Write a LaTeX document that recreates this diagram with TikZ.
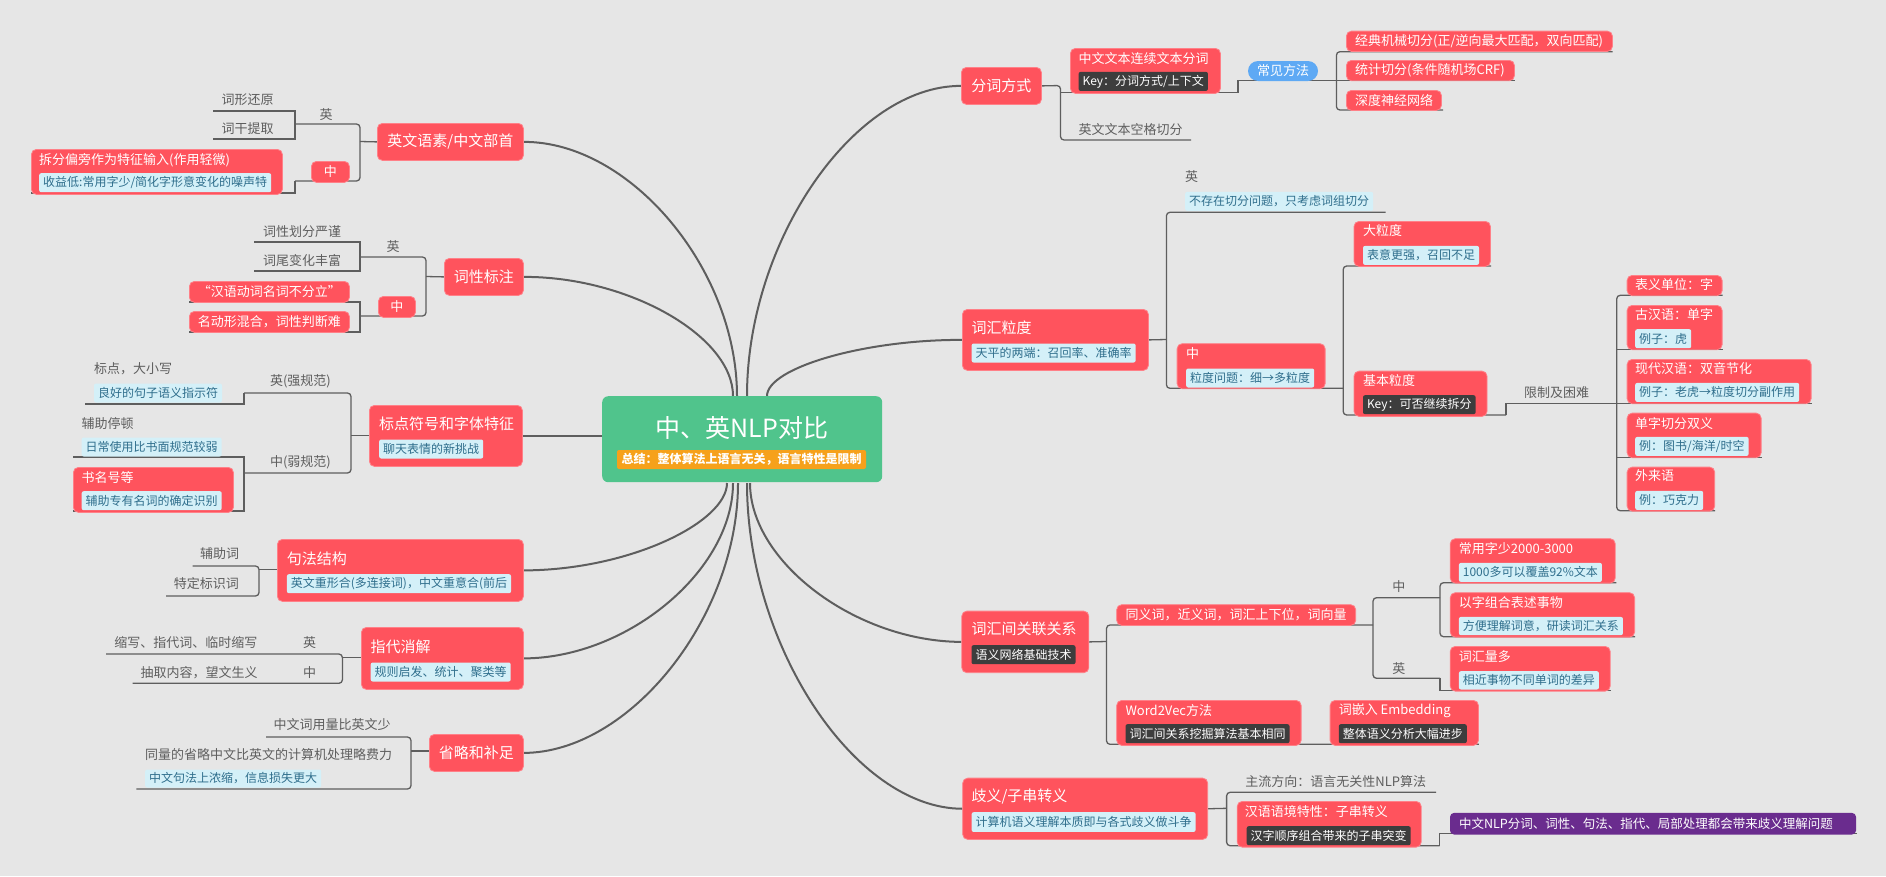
\documentclass[tikz,border=0pt]{standalone}
\usepackage{fontspec}
\setmainfont{Noto Sans CJK SC}
\definecolor{bgc}{HTML}{E6E6E6}
\definecolor{nred}{HTML}{FF535D}
\definecolor{nredl}{HTML}{FF8088}
\definecolor{lblue}{HTML}{D4F0F8}
\definecolor{ltxt}{HTML}{2F6E8C}
\definecolor{dgray}{HTML}{3D3D3D}
\definecolor{gtxt}{HTML}{5E5E5E}
\definecolor{lcol}{HTML}{5E5E5E}
\definecolor{cgreen}{HTML}{50C48C}
\definecolor{corange}{HTML}{F6A11B}
\definecolor{pblue}{HTML}{5EA9F4}
\definecolor{cpurple}{HTML}{6A2C8E}
\pgfdeclarelayer{back}
\pgfdeclarelayer{lines}
\pgfsetlayers{back,lines,main}
\tikzset{
  fa/.style={font=\fontsize{15}{18}\selectfont},
  fb/.style={font=\fontsize{13}{16}\selectfont},
  fc/.style={font=\fontsize{12}{14}\selectfont},
  redbox/.style={fill=nred, draw=nredl, line width=0.8pt, rounded corners=5pt, inner sep=0pt, anchor=north west},
  wt/.style={text=white, inner sep=0pt},
  ptx/.style={text=gtxt, inner sep=0pt, fb},
  lab/.style={fill=lblue, text=ltxt, rounded corners=2pt, inner xsep=4pt, inner ysep=0pt, minimum height=19pt, anchor=north west, fc},
  dlab/.style={lab, fill=dgray, text=white},
  ln/.style={draw=lcol, line width=1.3pt, rounded corners=3.5pt},
  sq/.style={draw=lcol, line width=1.3pt},
  cv/.style={draw=lcol, line width=2pt},
}
\newcommand\mybox[5]{\node[redbox, minimum width=#4pt, minimum height=#5pt] (#1) at (#2,#3) {};}
\begin{document}
\begin{tikzpicture}[x=1pt,y=-1pt]
\begin{pgfonlayer}{back}
\fill[bgc] (0,0) rectangle (1886,876);
\end{pgfonlayer}
\useasboundingbox (0,0) rectangle (1886,876);

% ---------- center ----------
\node[fill=cgreen, rounded corners=6pt, minimum width=280pt, minimum height=86pt, anchor=north west, inner sep=0pt] (c) at (602,396) {};
\node[wt, font=\fontsize{25}{30}\selectfont] (ct) at (742,428) {中、英NLP对比};
\node[fill=corange, text=white, rounded corners=2pt, minimum width=249pt, minimum height=19pt, inner sep=0pt, fc] (cl) at (741.5,459.5) {\bfseries 总结：整体算法上语言无关，语言特性是限制};
\coordinate (s1) at (737,396);
\coordinate (s2) at (733,396);
\coordinate (s3) at (602,435.5);
\coordinate (s4) at (727,483);
\coordinate (s5) at (733,483);
\coordinate (s6) at (738,483);
\coordinate (s7) at (747,396);
\coordinate (s8) at (767,396);
\coordinate (s9) at (750,483);
\coordinate (s10) at (747,483);

% ---------- L1 ----------
\mybox{b1}{377}{123}{146}{37}
\node[wt,fa] at (b1.center) {英文语素/中文部首};
\node[ptx] at (326,115) {英};
\node[ptx] at (247.6,100) {词形还原};
\node[ptx] at (247.6,129) {词干提取};
\mybox{b1z}{311}{161}{38}{21}
\node[wt,fb] at (b1z.center) {中};
\mybox{b1y}{31}{149}{251}{45}
\node[wt,fb,anchor=west] at (39,160) {拆分偏旁作为特征输入(作用轻微)};
\node[lab] at (39,173) {收益低:常用字少/简化字形意变化的噪声特};

% ---------- L2 ----------
\mybox{b2}{444}{258}{79}{37}
\node[wt,fa] at (b2.center) {词性标注};
\node[ptx] at (393,246.7) {英};
\node[ptx] at (302,231.7) {词性划分严谨};
\node[ptx] at (302,261) {词尾变化丰富};
\mybox{b2z}{378}{296}{37}{21}
\node[wt,fb] at (b2z.center) {中};
\mybox{b2y}{189}{281}{160}{21}
\node[wt,fb] at (b2y.center) {“汉语动词名词不分立”};
\mybox{b2x}{189}{311}{160}{21}
\node[wt,fb] at (b2x.center) {名动形混合，词性判断难};

% ---------- L3 ----------
\mybox{b3}{369}{405}{153}{61}
\node[wt,fa,anchor=west] at (379,423.3) {标点符号和字体特征};
\node[lab] at (379,439.3) {聊天表情的新挑战};
\node[ptx] at (300.4,381.7) {英(强规范)};
\node[ptx] at (300.4,462.3) {中(弱规范)};
\node[ptx,anchor=west] at (93.8,369) {标点，大小写};
\node[lab] at (93.8,383.3) {良好的句子语义指示符};
\node[ptx,anchor=west] at (81.5,423.3) {辅助停顿};
\node[lab] at (81.5,437.3) {日常使用比书面规范较弱};
\mybox{b3z}{73}{467}{160}{45}
\node[wt,fb,anchor=west] at (81.5,477.7) {书名号等};
\node[lab] at (81.5,491) {辅助专有名词的确定识别};

% ---------- L4 ----------
\mybox{b4}{277}{539}{246}{62}
\node[wt,fa,anchor=west] at (286.7,558.7) {句法结构};
\node[lab] at (286.7,574) {英文重形合(多连接词)，中文重意合(前后};
\node[ptx] at (219.5,554) {辅助词};
\node[ptx] at (206.4,584) {特定标识词};

% ---------- L5 ----------
\mybox{b5}{361}{627}{162}{62}
\node[wt,fa,anchor=west] at (370.5,646.7) {指代消解};
\node[lab] at (370.5,662.3) {规则启发、统计、聚类等};
\node[ptx] at (185.8,642.7) {缩写、指代词、临时缩写};
\node[ptx] at (309.6,642.7) {英};
\node[ptx] at (199,672.3) {抽取内容，望文生义};
\node[ptx] at (309.6,672.3) {中};

% ---------- L6 ----------
\mybox{b6}{429}{734}{94}{37}
\node[wt,fa] at (b6.center) {省略和补足};
\node[ptx] at (332,725) {中文词用量比英文少};
\node[ptx,anchor=west] at (145,755) {同量的省略中文比英文的计算机处理略费力};
\node[lab,minimum height=18pt] at (145,769.3) {中文句法上浓缩，信息损失更大};

% ---------- R1 ----------
\mybox{r1}{961}{67}{80}{37}
\node[wt,fa] at (r1.center) {分词方式};
\mybox{r1a}{1070}{48}{150}{45}
\node[wt,fb,anchor=west] at (1078.4,59) {中文文本连续文本分词};
\node[dlab] at (1078.4,71.7) {Key：分词方式/上下文};
\node[ptx,anchor=west] at (1078.4,130) {英文文本空格切分};
\node[fill=pblue, text=white, rounded corners=10pt, minimum width=70pt, minimum height=20pt, inner sep=0pt, fb] (pill) at (1283,71) {常见方法};
\mybox{r1b}{1346}{30.7}{266}{20.3}
\node[wt,fb,anchor=west] at (1355,40.8) {经典机械切分(正/逆向最大匹配，双向匹配)};
\mybox{r1c}{1346}{60}{168}{20.3}
\node[wt,fb,anchor=west] at (1355,70.2) {统计切分(条件随机场CRF)};
\mybox{r1d}{1346}{90}{95}{20}
\node[wt,fb,anchor=west] at (1355,100) {深度神经网络};

% ---------- R2 ----------
\mybox{r2}{962}{309}{186}{61}
\node[wt,fa,anchor=west] at (971.4,327.7) {词汇粒度};
\node[lab] at (971.4,343.3) {天平的两端：召回率、准确率};
\node[ptx,anchor=west] at (1185,176.7) {英};
\node[lab] at (1185,191.7) {不存在切分问题，只考虑词组切分};
\mybox{r2z}{1176.7}{343.3}{148}{45}
\node[wt,fb,anchor=west] at (1186,354) {中};
\node[lab] at (1186,368.3) {粒度问题：细→多粒度};
\mybox{r2a}{1353.6}{221}{136.4}{45}
\node[wt,fb,anchor=west] at (1362.8,231) {大粒度};
\node[lab] at (1362.8,245.7) {表意更强，召回不足};
\mybox{r2b}{1353.6}{370.7}{133}{45.3}
\node[wt,fb,anchor=west] at (1362.8,381) {基本粒度};
\node[dlab] at (1362.8,395) {Key：可否继续拆分};
\node[ptx] at (1556.7,392.7) {限制及困难};
\mybox{r2c}{1626.7}{275}{95}{20.3}
\node[wt,fb,anchor=west] at (1635,285) {表义单位：字};
\mybox{r2d}{1626.7}{305}{95}{44.3}
\node[wt,fb,anchor=west] at (1635,315) {古汉语：单字};
\node[lab] at (1635,329) {例子：虎};
\mybox{r2e}{1626.7}{359}{184}{44.3}
\node[wt,fb,anchor=west] at (1635,369) {现代汉语：双音节化};
\node[lab] at (1635,382.7) {例子：老虎→粒度切分副作用};
\mybox{r2f}{1626.7}{412.7}{134}{44.6}
\node[wt,fb,anchor=west] at (1635,423.3) {单字切分双义};
\node[lab] at (1635,436.7) {例：图书/海洋/时空};
\mybox{r2g}{1626.7}{466.7}{87.6}{44}
\node[wt,fb,anchor=west] at (1635,476) {外来语};
\node[lab] at (1635,490.7) {例：巧克力};

% ---------- R3 ----------
\mybox{r3}{961.4}{610.7}{127}{61.6}
\node[wt,fa,anchor=west] at (971.3,629.3) {词汇间关联关系};
\node[dlab] at (971.3,645) {语义网络基础技术};
\mybox{r3a}{1116.3}{604.3}{239}{20.7}
\node[wt,fb,anchor=west] at (1125.3,614.8) {同义词，近义词，词汇上下位，词向量};
\node[ptx] at (1398.9,586.7) {中};
\node[ptx] at (1398.9,668.3) {英};
\mybox{r3b}{1449.8}{538.3}{165}{44.4}
\node[wt,fb,anchor=west] at (1458.7,549) {常用字少2000-3000};
\node[lab] at (1458.7,562.7) {1000多可以覆盖92\%文本};
\mybox{r3c}{1449.8}{592.3}{184.4}{44.4}
\node[wt,fb,anchor=west] at (1458.7,602.3) {以字组合表述事物};
\node[lab,minimum height=18.3pt] at (1458.7,616.7) {方便理解词意，研读词汇关系};
\mybox{r3d}{1449.8}{646}{160}{44.7}
\node[wt,fb,anchor=west] at (1458.7,656.7) {词汇量多};
\node[lab,minimum height=18.3pt] at (1458.7,671) {相近事物不同单词的差异};
\mybox{r3e}{1116.3}{700}{184.4}{45}
\node[wt,fb,anchor=west] at (1125.3,710.7) {Word2Vec方法};
\node[dlab] at (1125.3,724) {词汇间关系挖掘算法基本相同};
\mybox{r3f}{1329.7}{700}{148.3}{45}
\node[wt,fb,anchor=west] at (1338.6,710.7) {词嵌入 Embedding};
\node[dlab] at (1338.6,724) {整体语义分析大幅进步};

% ---------- R4 ----------
\mybox{r4}{962.3}{777.7}{245}{61.3}
\node[wt,fa,anchor=west] at (971.4,796.7) {歧义/子串转义};
\node[lab,minimum height=19.7pt] at (971.4,812) {计算机语义理解本质即与各式歧义做斗争};
\node[ptx] at (1335.8,781.7) {主流方向：语言无关性NLP算法};
\mybox{r4a}{1236.8}{801}{184}{45.7}
\node[wt,fb,anchor=west] at (1244.7,811.7) {汉语语境特性：子串转义};
\node[dlab] at (1246.5,826) {汉字顺序组合带来的子串突变};
\node[fill=cpurple, rounded corners=4pt, minimum width=406pt, minimum height=21.6pt, anchor=north west, inner sep=0pt] (r4b) at (1449.8,812.7) {};
\node[wt, anchor=west, font=\fontsize{12.5}{15}\selectfont] at (1458.8,823.3) {中文NLP分词、词性、句法、指代、局部处理都会带来歧义理解问题};

% ---------- connectors ----------
\begin{pgfonlayer}{lines}
% main curves
\draw[cv] (s1) .. controls (737,269) and (630,141.5) .. (b1.east);
\draw[cv] (s2) .. controls (733,336) and (628,276.5) .. (b2.east);
\draw[cv] (s3) -- (s3 -| b3.east);
\draw[cv] (s4) .. controls (727,522) and (630,570) .. (b4.east);
\draw[cv] (s5) .. controls (733,570) and (628,658) .. (b5.east);
\draw[cv] (s6) .. controls (738,617) and (630,752.5) .. (b6.east);
\draw[cv] (s7) .. controls (747,241) and (854,85.5) .. (r1.west);
\draw[cv] (s8) .. controls (767,368) and (864,339.5) .. (r2.west);
\draw[cv] (s9) .. controls (750,562) and (856,641.5) .. (r3.west);
\draw[cv] (s10) .. controls (747,645) and (854,808.3) .. (r4.west);
% L1
\draw[ln] (b1.west) -- (360,141.5);
\draw[ln] (295,124) -- (360,124) -- (360,181) -- (295,181);
\draw[sq] (213,111) -- (295,111) -- (295,139) -- (213,139);
\draw[sq] (295,181) -- (295,193) -- (31,193);
% L2
\draw[ln] (b2.west) -- (426,276.5);
\draw[ln] (360,257) -- (426,257) -- (426,316) -- (360,316);
\draw[sq] (254,242) -- (360,242) -- (360,271) -- (254,271);
\draw[sq] (189,302) -- (360,302) -- (360,332) -- (189,332);
% L3
\draw[ln] (369,435.7) -- (351,435.7);
\draw[ln] (244,393) -- (351,393) -- (351,473) -- (244,473);
\draw[sq] (244,393) -- (244,404) -- (85,404);
\draw[sq] (73,457) -- (244,457) -- (244,511) -- (73,511);
% L4
\draw[ln] (277,569.3) -- (259,569.3);
\draw[ln] (192.6,566) -- (259,566) -- (259,596) -- (166,596);
% L5
\draw[ln] (361,657.3) -- (342.4,657.3);
\draw[ln] (106,654) -- (342.4,654) -- (342.4,683.3) -- (132.5,683.3);
% L6
\draw[ln] (429,751) -- (411,751);
\draw[ln] (266,737) -- (411,737) -- (411,789) -- (136.4,789);
% R1
\draw[ln] (r1.east) -- (1060.5,85.5) -- (1060.5,140) -- (1191,140);
\draw[sq] (1060.5,92.7) -- (1238,92.7) -- (1238,80.7) -- (1514.5,80.7);
\draw[ln] (1612.7,51.7) -- (1336.4,51.7) -- (1336.4,110) -- (1443,110);
% R2
\draw[ln] (r2.east) -- (1166.4,339.5);
\draw[ln] (1385.7,212.3) -- (1166.4,212.3) -- (1166.4,388.3) -- (1343.2,388.3);
\draw[ln] (1491,266) -- (1343.2,266) -- (1343.2,415) -- (1506,415);
\draw[sq] (1506,415) -- (1506,403.3) -- (1811.7,403.3);
\draw[ln] (1722.7,295.3) -- (1616.7,295.3) -- (1616.7,510.7) -- (1715,510.7);
\draw[sq] (1616.7,349.3) -- (1722.7,349.3);
\draw[sq] (1616.7,457.3) -- (1761.7,457.3);
% R3
\draw[ln] (r3.east) -- (1106.5,641.5);
\draw[ln] (1373,625) -- (1106.5,625) -- (1106.5,744.3) -- (1478.8,744.3);
\draw[ln] (1440,597.7) -- (1373,597.7) -- (1373,678.3) -- (1440,678.3);
\draw[sq] (1440,678.3) -- (1440,690.7) -- (1610.5,690.7);
\draw[ln] (1616.3,582.7) -- (1440,582.7) -- (1440,636.7) -- (1635,636.7);
% R4
\draw[ln] (r4.east) -- (1226.6,808.3);
\draw[ln] (1436,792.3) -- (1226.6,792.3) -- (1226.6,845.7) -- (1439.5,845.7);
\draw[sq] (1439.5,845.7) -- (1439.5,833.3) -- (1857,833.3);
\end{pgfonlayer}
\end{tikzpicture}
\end{document}
